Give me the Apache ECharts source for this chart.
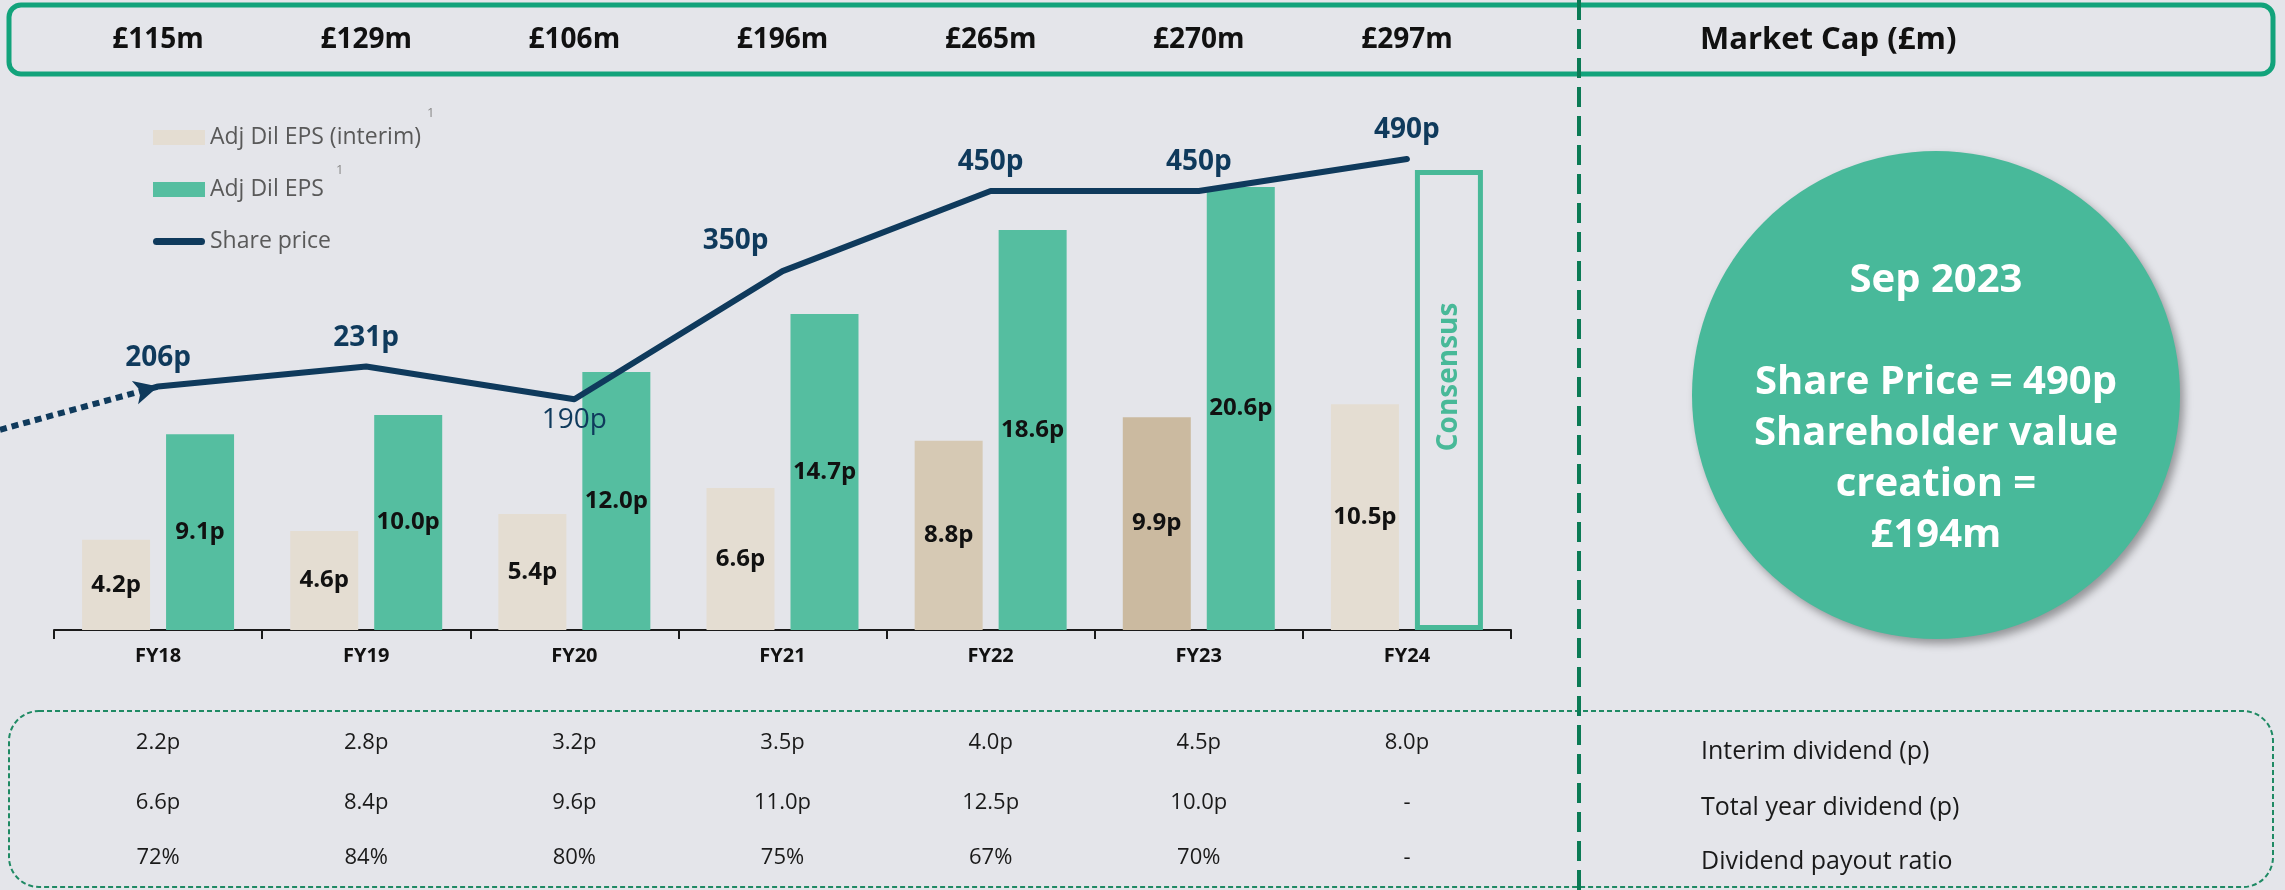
<!DOCTYPE html>
<html>
<head>
<meta charset="utf-8">
<title>Share price and EPS</title>
<script src="https://cdn.jsdelivr.net/npm/echarts@6/dist/echarts.min.js"></script>
<style>
html, body { margin: 0; padding: 0; background: #e4e5ea; }
#main { width: 2285px; height: 890px; }
</style>
</head>
<body>
<div id="main"></div>
<script>
// data
const years = ['FY18', 'FY19', 'FY20', 'FY21', 'FY22', 'FY23', 'FY24'];
const marketCap = [115, 129, 106, 196, 265, 270, 297];
const epsInterim = [4.2, 4.6, 5.4, 6.6, 8.8, 9.9, 10.5];
const epsFull = [9.1, 10.0, 12.0, 14.7, 18.6, 20.6, 21.4]; // FY24 = consensus outline
const sharePrice = [206, 231, 190, 350, 450, 450, 490];
const priorPrice = 152;      // start of the dotted run-in
const runInStart = -0.26;    // in category units, left of FY18
const interimDiv = [2.2, 2.8, 3.2, 3.5, 4.0, 4.5, 8.0];
const totalDiv = [6.6, 8.4, 9.6, 11.0, 12.5, 10.0, null];
const payoutRatio = [72, 84, 80, 75, 67, 70, null];
const rowLabels = ['Interim dividend (p)', 'Total year dividend (p)', 'Dividend payout ratio'];

const FONT = "'Open Sans', sans-serif";
const NAVY = '#0f3a5c';
const GREEN = '#55bea0';
const BEIGE = '#e4ddd2';
const CONS = '#48b998';

// darker shades for two of the interim bars
const interimShade = { 4: '#d6c9b4', 5: '#cbbaa0' };
// label placement for the share price points
const priceLabel = {
  2: { position: 'bottom', distance: 6, fontWeight: 'normal' },
  3: { offset: [-47, -2] }
};

const chart = echarts.init(document.getElementById('main'));

function rowAxis(values, fmt, margin) {
  return {
    type: 'category', data: years, position: 'bottom',
    axisLine: { show: false, onZero: false }, axisTick: { show: false },
    axisLabel: {
      interval: 0, margin: margin, verticalAlign: 'middle',
      fontFamily: FONT, fontSize: 22, color: '#1a1a1a',
      formatter: (v, i) => values[i] == null ? '-' : fmt(values[i])
    }
  };
}

chart.setOption({
  backgroundColor: '#e4e5ea',
  animation: false,
  grid: [
    { left: 54, right: 774, top: 92.5, bottom: 260, containLabel: false },
    // same band, stretched to the left edge, for the dotted run-in
    { left: 0, right: 774, top: 92.5, bottom: 260, containLabel: false }
  ],
  legend: {
    orient: 'vertical', left: 148, top: 121,
    itemWidth: 52, itemHeight: 15, itemGap: 29,
    selectedMode: false,
    textStyle: { fontFamily: FONT, fontSize: 23, color: '#595959' },
    data: [
      { name: 'Adj Dil EPS (interim)', icon: 'rect', itemStyle: { borderWidth: 0 } },
      { name: 'Adj Dil EPS', icon: 'rect', itemStyle: { borderWidth: 0 } },
      { name: 'Share price', icon: 'path://M3.5,0 H48.5 A3.5,3.5 0 0 1 48.5,7 H3.5 A3.5,3.5 0 0 1 3.5,0 Z',
        itemStyle: { color: NAVY, borderWidth: 0 } }
    ]
  },
  xAxis: [
    {
      type: 'category', data: years, position: 'bottom',
      axisLine: { onZero: false, lineStyle: { color: '#1a1a1a', width: 2 } },
      axisTick: { show: true, interval: 0, length: 9, lineStyle: { color: '#1a1a1a', width: 2 } },
      axisLabel: { interval: 0, margin: 26, verticalAlign: 'middle', fontFamily: FONT,
        fontWeight: 'bold', fontSize: 20, color: '#111' }
    },
    {
      type: 'category', data: years, position: 'top',
      axisLine: { show: false, onZero: false }, axisTick: { show: false },
      axisLabel: { interval: 0, margin: 52, verticalAlign: 'middle', fontFamily: FONT,
        fontWeight: 'bold', fontSize: 28, color: '#111',
        formatter: (v, i) => '£' + marketCap[i] + 'm' }
    },
    rowAxis(interimDiv, v => v.toFixed(1) + 'p', 113),
    rowAxis(totalDiv, v => v.toFixed(1) + 'p', 173),
    rowAxis(payoutRatio, v => v + '%', 228),
    { type: 'value', gridIndex: 1, min: runInStart, max: 7, show: false, axisLine: { onZero: false } }
  ],
  yAxis: [
    { type: 'value', min: 0, max: 25, show: false },
    { type: 'value', min: -98, max: 573, show: false },
    { type: 'value', gridIndex: 1, min: -98, max: 573, show: false }
  ],
  series: [
    {
      name: 'Adj Dil EPS (interim)', type: 'bar', xAxisIndex: 0, yAxisIndex: 0,
      barWidth: 68, barGap: '23.5%',
      itemStyle: { color: BEIGE },
      label: { show: true, position: 'inside', fontFamily: FONT, fontWeight: 'bold',
        fontSize: 24, color: '#111', formatter: p => p.value.toFixed(1) + 'p' },
      data: epsInterim.map((v, i) => interimShade[i] ? { value: v, itemStyle: { color: interimShade[i] } } : v)
    },
    {
      name: 'Adj Dil EPS', type: 'bar', xAxisIndex: 0, yAxisIndex: 0,
      barWidth: 68, barGap: '23.5%',
      itemStyle: { color: GREEN },
      label: { show: true, position: 'inside', fontFamily: FONT, fontWeight: 'bold',
        fontSize: 24, color: '#111', formatter: p => p.value.toFixed(1) + 'p' },
      data: epsFull.map((v, i) => i < epsFull.length - 1 ? v : {
        value: v,
        itemStyle: { color: 'rgba(0,0,0,0)', borderColor: CONS, borderWidth: 5 },
        label: { formatter: 'Consensus', rotate: 90, color: CONS, fontSize: 28,
          position: ['50%', '45%'], align: 'center', verticalAlign: 'middle' }
      })
    },
    {
      name: 'runin', type: 'line', xAxisIndex: 5, yAxisIndex: 2,
      silent: true, color: NAVY,
      symbol: 'none',
      lineStyle: { color: NAVY, width: 6, type: [7, 5], cap: 'butt' },
      data: [
        [runInStart, priorPrice],
        { value: [0.5, sharePrice[0]], symbol: 'arrow', symbolSize: [18, 24], symbolRotate: -75,
          itemStyle: { color: NAVY } }
      ]
    },
    {
      name: 'Share price', type: 'line', xAxisIndex: 0, yAxisIndex: 1,
      color: NAVY, symbol: 'circle', symbolSize: 1,
      itemStyle: { color: NAVY },
      lineStyle: { color: NAVY, width: 6, cap: 'round', join: 'round' },
      label: { show: true, position: 'top', distance: 14, fontFamily: FONT,
        fontWeight: 'bold', fontSize: 28, color: NAVY, formatter: p => p.value + 'p' },
      data: sharePrice.map((v, i) => priceLabel[i] ? { value: v, label: priceLabel[i] } : v)
    }
  ],
  graphic: [
    { type: 'rect', shape: { x: 9, y: 5, width: 2264, height: 69, r: 12 },
      style: { fill: null, stroke: '#12a37b', lineWidth: 5 } },
    { type: 'rect', shape: { x: 9, y: 711, width: 2264, height: 176, r: 30 },
      style: { fill: null, stroke: '#1f8a64', lineWidth: 2, lineDash: [5, 3] } },
    { type: 'line', shape: { x1: 1579, y1: 0, x2: 1579, y2: 890 },
      style: { stroke: '#0b7a55', lineWidth: 4, lineDash: [20, 9] } },
    { type: 'text', x: 1700, y: 40,
      style: { text: 'Market Cap (£m)', fontFamily: FONT, fontWeight: 'bold', fontSize: 31,
        fill: '#111', verticalAlign: 'middle' } },
    { type: 'text', x: 1701, y: 752,
      style: { text: rowLabels[0], fontFamily: FONT, fontSize: 25, fill: '#1a1a1a', verticalAlign: 'middle' } },
    { type: 'text', x: 1701, y: 808,
      style: { text: rowLabels[1], fontFamily: FONT, fontSize: 25, fill: '#1a1a1a', verticalAlign: 'middle' } },
    { type: 'text', x: 1701, y: 862,
      style: { text: rowLabels[2], fontFamily: FONT, fontSize: 25, fill: '#1a1a1a', verticalAlign: 'middle' } },
    { type: 'text', x: 427, y: 113,
      style: { text: '1', fontFamily: FONT, fontSize: 13, fill: '#8a8a8a', verticalAlign: 'middle' } },
    { type: 'text', x: 336, y: 170,
      style: { text: '1', fontFamily: FONT, fontSize: 13, fill: '#8a8a8a', verticalAlign: 'middle' } },
    { type: 'circle', shape: { cx: 1936, cy: 395, r: 244 },
      style: { fill: '#48b99a', shadowBlur: 8, shadowColor: 'rgba(0,0,0,0.35)',
        shadowOffsetX: 4, shadowOffsetY: 5 } },
    { type: 'text', x: 1936, y: 408,
      style: {
        text: 'Sep 2023\n\nShare Price = ' + sharePrice[sharePrice.length - 1] + 'p\nShareholder value\ncreation =\n£194m',
        fontFamily: FONT, fontWeight: 'bold', fontSize: 40, lineHeight: 51,
        fill: '#ffffff', align: 'center', verticalAlign: 'middle'
      } }
  ]
});
</script>
</body>
</html>
